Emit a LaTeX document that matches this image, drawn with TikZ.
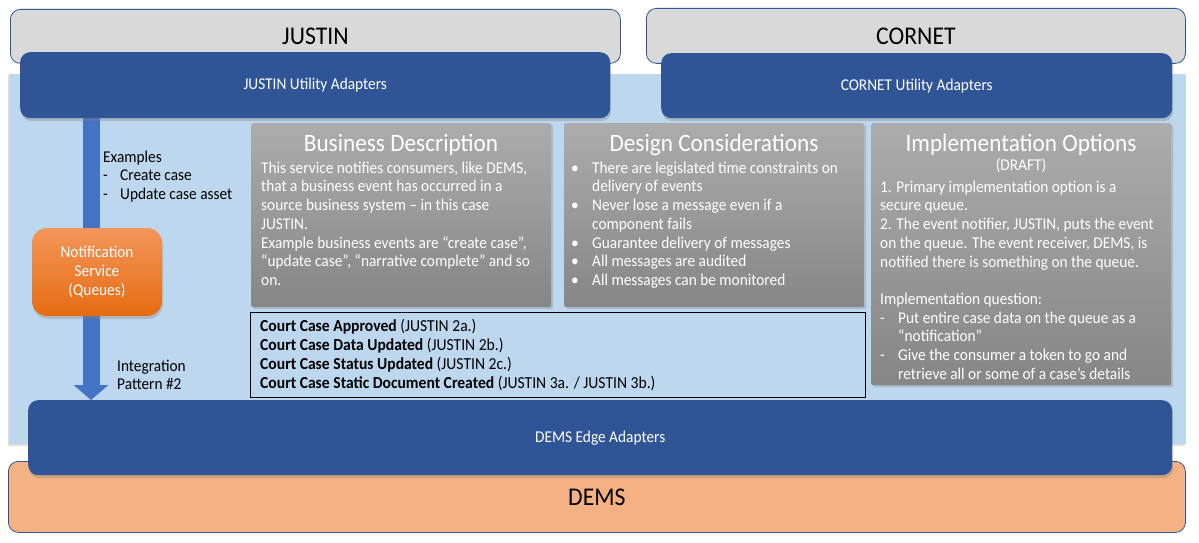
\documentclass[tikz,border=0pt]{standalone}
\usepackage{fontspec}
\setmainfont{Carlito}[FakeStretch=0.93]
\usetikzlibrary{shadows,arrows.meta,positioning}
\definecolor{dkblue}{RGB}{47,85,151}
\definecolor{topgrey}{RGB}{217,217,217}
\definecolor{lightbg}{RGB}{189,215,238}
\definecolor{flowblue}{RGB}{68,114,196}
\definecolor{demsorange}{RGB}{244,177,131}
\definecolor{greytop}{RGB}{172,172,172}
\definecolor{greybot}{RGB}{134,134,134}
\definecolor{orangetop}{RGB}{243,150,90}
\definecolor{orangebot}{RGB}{229,108,18}
\newcommand{\bodyfont}{\fontsize{16.5}{18.7}\selectfont}
\newcommand{\bul}{\makebox[21pt][l]{•}}
\newcommand{\bulind}{\hspace*{21pt}}
\newcommand{\dsh}[1]{\makebox[#1][l]{-}}

\begin{document}
\begin{tikzpicture}[x=1pt,y=-1pt,
  topbox/.style={draw=dkblue, line width=0.8pt, fill=topgrey, rounded corners=10pt,
    anchor=north west, font=\fontsize{25.5}{30}\selectfont},
  adapter/.style={fill=dkblue, rounded corners=10pt, anchor=north west, text=white,
    font=\bodyfont, drop shadow={shadow xshift=1pt,shadow yshift=-3pt,opacity=0.35}},
  infobox/.style={top color=greytop, bottom color=greybot, rounded corners=2pt,
    anchor=north west, drop shadow={shadow xshift=2pt,shadow yshift=-2pt,opacity=0.3}},
  titletxt/.style={anchor=base, inner sep=0, text=white, font=\fontsize{25}{30}\selectfont},
  bodytxt/.style={anchor=north west, inner sep=0, align=left, font=\bodyfont},
  flowarrow/.style={line width=17pt, draw=flowblue, -{Triangle[width=34pt,length=15pt]}}]
\fill[white] (0,0) rectangle (1199,543);
\useasboundingbox (0,0) rectangle (1199,543);

\fill[lightbg, drop shadow={shadow xshift=-1pt,shadow yshift=-2pt,opacity=0.25}] (9,74) rectangle (1186,444);

\node[topbox, minimum width=610pt, minimum height=54pt] (justin) at (10,9) {JUSTIN};
\node[topbox, minimum width=539pt, minimum height=55pt] (cornet) at (646,8) {CORNET};
\node[topbox, fill=demsorange, minimum width=1177pt, minimum height=71pt] (dems) at (8,461) {DEMS};

\coordinate (flowtop) at (91,118);
\coordinate (flowend) at (91,400);
\draw[flowarrow] (flowtop) -- (flowend);

\node[adapter, minimum width=590pt, minimum height=66pt] (justinad) at (20,52) {JUSTIN Utility Adapters};
\node[adapter, minimum width=511pt, minimum height=65pt] (cornetad) at (661,53) {CORNET Utility Adapters};
\node[adapter, minimum width=1144pt, minimum height=75pt] (demsad) at (28,400) {DEMS Edge Adapters};

\node[top color=orangetop, bottom color=orangebot, rounded corners=15pt, text=white,
  align=center, font=\bodyfont, minimum width=130pt, minimum height=88pt,
  drop shadow={shadow xshift=1pt,shadow yshift=-3pt,opacity=0.3}] (notify) at (97,272)
  {Notification\\Service\\(Queues)};

\node[bodytxt] (examples) at (103,149) {\rule{0pt}{13pt}Examples\\
  \dsh{17pt}Create case\\ \dsh{17pt}Update case asset};
\node[bodytxt] (pattern) at (117,358) {\rule{0pt}{13pt}Integration\\Pattern \#2};

% info boxes
\node[infobox, minimum width=300pt, minimum height=184pt] (bizbox) at (251,123) {};
\node[infobox, minimum width=300pt, minimum height=184pt] (designbox) at (564,123) {};
\node[infobox, minimum width=300pt, minimum height=262pt] (implbox) at (871,123) {};

\node[titletxt] (biztitle) at (401,151.5) {Business Description};
\node[titletxt] (designtitle) at (714,151.5) {Design Considerations};
\node[titletxt] (impltitle) at (1021,151.5) {Implementation Options};
\node[titletxt, font=\bodyfont] (draft) at (1021,170) {(DRAFT)};

\node[bodytxt, text=white] (biztxt) at (261,160) {\rule{0pt}{13pt}This service notifies consumers, like DEMS,\\
  that a business event has occurred in a\\
  source business system -- in this case\\
  JUSTIN.\\
  Example business events are “create case”,\\
  “update case”, “narrative complete” and so\\
  on.};
\node[bodytxt, text=white] (designtxt) at (571,160) {\rule{0pt}{13pt}\bul There are legislated time constraints on\\
  \bulind delivery of events\\
  \bul Never lose a message even if a\\
  \bulind component fails\\
  \bul Guarantee delivery of messages\\
  \bul All messages are audited\\
  \bul All messages can be monitored};
\node[bodytxt, text=white] (impltxt) at (880,179) {\rule{0pt}{13pt}1. Primary implementation option is a\\
  secure queue.\\
  2. The event notifier, JUSTIN, puts the event\\
  on the queue. The event receiver, DEMS, is\\
  notified there is something on the queue.\\
  \mbox{}\\
  Implementation question:\\
  \dsh{18pt}Put entire case data on the queue as a\\
  \hspace*{18pt}“notification”\\
  \dsh{18pt}Give the consumer a token to go and\\
  \hspace*{18pt}retrieve all or some of a case’s details};

% events
\node[draw=black, line width=0.8pt, fill=lightbg, anchor=north west, minimum width=615pt,
  minimum height=85pt] (courtbox) at (250,312) {};
\node[bodytxt, font=\fontsize{16.8}{18.8}\selectfont] (courttxt) at (260,318.5) {\rule{0pt}{13pt}\textbf{Court Case Approved} (JUSTIN 2a.)\\
  \textbf{Court Case Data Updated} (JUSTIN 2b.)\\
  \textbf{Court Case Status Updated} (JUSTIN 2c.)\\
  \textbf{Court Case Static Document Created} (JUSTIN 3a. / JUSTIN 3b.)};
\end{tikzpicture}
\end{document}
